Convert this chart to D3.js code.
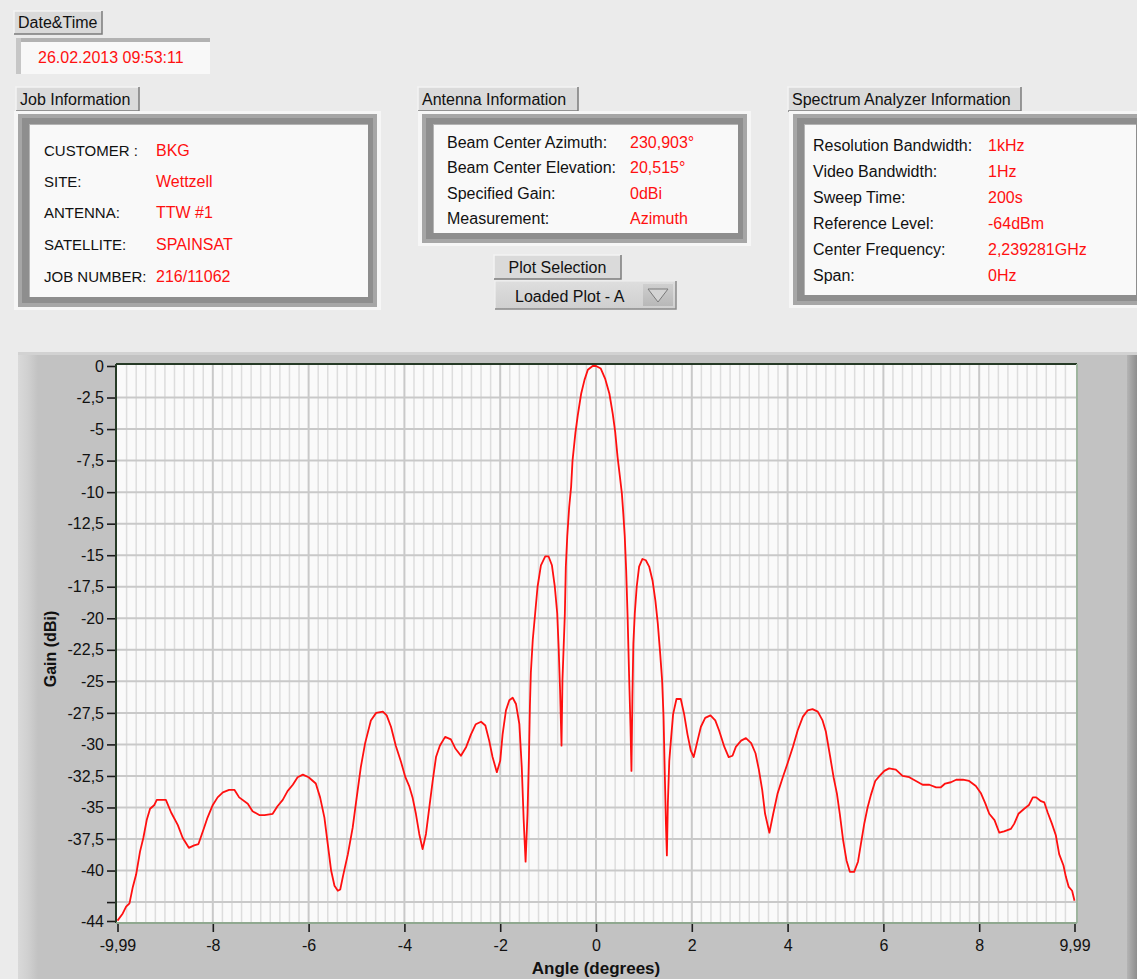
<!DOCTYPE html>
<html>
<head>
<meta charset="utf-8">
<script src="https://cdn.jsdelivr.net/npm/d3@7/dist/d3.min.js"></script>
<style>
  html, body { margin: 0; padding: 0; background: #ebebeb; }
  svg { display: block; }
  text { font-family: "Liberation Sans", Arial, sans-serif; }
</style>
</head>
<body>
<svg id="chart" width="1137" height="979"></svg>
<script>
// ---- Measurement record -------------------------------------------------
const dateTime = "26.02.2013 09:53:11";

const jobLabels = ["CUSTOMER :", "SITE:", "ANTENNA:", "SATELLITE:", "JOB NUMBER:"];
const jobValues = ["BKG", "Wettzell", "TTW #1", "SPAINSAT", "216/11062"];

const antennaLabels = ["Beam Center Azimuth:", "Beam Center Elevation:", "Specified Gain:", "Measurement:"];
const antennaValues = ["230,903°", "20,515°", "0dBi", "Azimuth"];

const analyzerLabels = ["Resolution Bandwidth:", "Video Bandwidth:", "Sweep Time:", "Reference Level:", "Center Frequency:", "Span:"];
const analyzerValues = ["1kHz", "1Hz", "200s", "-64dBm", "2,239281GHz", "0Hz"];

// ---- Antenna pattern (azimuth cut) --------------------------------------
const angles = [
  -9.99, -9.88, -9.81, -9.74, -9.67, -9.60, -9.52, -9.45, -9.38, -9.31, -9.22, -9.17,
  -8.98, -8.87, -8.73, -8.63, -8.50, -8.39, -8.30, -8.20, -8.11, -8.00, -7.90, -7.79,
  -7.66, -7.55, -7.45, -7.27, -7.17, -7.03, -6.92, -6.75, -6.65, -6.54, -6.44, -6.33,
  -6.23, -6.12, -6.00, -5.85, -5.76, -5.67, -5.60, -5.53, -5.46, -5.39, -5.34, -5.28,
  -5.18, -5.08, -5.01, -4.91, -4.82, -4.70, -4.59, -4.45, -4.37, -4.28, -4.18, -4.07,
  -3.98, -3.90, -3.83, -3.76, -3.69, -3.62, -3.55, -3.48, -3.41, -3.34, -3.26, -3.15,
  -3.03, -2.94, -2.82, -2.71, -2.61, -2.51, -2.40, -2.31, -2.23, -2.16, -2.07, -2.00,
  -1.95, -1.88, -1.81, -1.74, -1.67, -1.60, -1.55, -1.51, -1.47, -1.43, -1.40, -1.38,
  -1.36, -1.32, -1.27, -1.22, -1.15, -1.06, -0.99, -0.92, -0.86, -0.81, -0.78, -0.75,
  -0.72, -0.70, -0.65, -0.63, -0.60, -0.56, -0.52, -0.49, -0.43, -0.38, -0.31, -0.24,
  -0.17, -0.07, 0.00, 0.10, 0.19, 0.28, 0.35, 0.40, 0.45, 0.50, 0.54, 0.57,
  0.60, 0.63, 0.66, 0.69, 0.72, 0.74, 0.76, 0.78, 0.81, 0.85, 0.90, 0.97,
  1.04, 1.11, 1.18, 1.24, 1.29, 1.34, 1.38, 1.41, 1.43, 1.46, 1.48, 1.50,
  1.53, 1.57, 1.61, 1.68, 1.77, 1.84, 1.91, 1.98, 2.04, 2.12, 2.19, 2.28,
  2.39, 2.49, 2.57, 2.68, 2.77, 2.85, 2.92, 3.03, 3.13, 3.24, 3.33, 3.40,
  3.47, 3.53, 3.62, 3.70, 3.79, 3.90, 4.00, 4.11, 4.21, 4.32, 4.42, 4.52,
  4.63, 4.73, 4.80, 4.89, 4.96, 5.03, 5.09, 5.16, 5.23, 5.30, 5.39, 5.47,
  5.53, 5.60, 5.67, 5.74, 5.83, 5.92, 6.02, 6.12, 6.26, 6.40, 6.54, 6.68,
  6.82, 6.96, 7.10, 7.20, 7.29, 7.41, 7.52, 7.66, 7.79, 7.93, 8.04, 8.13,
  8.21, 8.32, 8.42, 8.52, 8.66, 8.73, 8.82, 8.94, 9.04, 9.12, 9.19, 9.29,
  9.36, 9.43, 9.52, 9.60, 9.67, 9.76, 9.81, 9.87, 9.94, 9.99
];
const gains = [
  -43.97, -43.4, -42.86, -42.6, -41.3, -40.3, -38.5, -37.4, -36.0, -35.1, -34.8, -34.4,
  -34.4, -35.4, -36.4, -37.4, -38.2, -38.0, -37.9, -36.8, -35.8, -34.8, -34.2, -33.8,
  -33.6, -33.6, -34.2, -34.7, -35.3, -35.6, -35.6, -35.5, -34.9, -34.4, -33.7, -33.2,
  -32.6, -32.4, -32.6, -33.1, -34.2, -35.8, -37.9, -40.0, -41.2, -41.6, -41.5, -40.4,
  -38.7, -36.6, -34.6, -31.8, -29.9, -28.1, -27.5, -27.4, -27.7, -28.6, -30.1, -31.4,
  -32.6, -33.3, -34.2, -35.5, -37.1, -38.3, -37.1, -35.0, -32.9, -31.0, -30.1, -29.4,
  -29.6, -30.3, -30.9, -30.2, -29.2, -28.4, -28.2, -28.5, -29.7, -31.0, -32.2, -31.3,
  -29.2, -27.3, -26.5, -26.3, -26.8, -28.4, -31.8, -36.0, -39.3, -35.5, -31.0, -27.0,
  -24.3, -21.7, -19.6, -17.5, -15.8, -15.1, -15.1, -15.8, -17.5, -19.6, -22.3, -25.7,
  -30.1, -24.9, -19.6, -15.9, -13.5, -11.2, -9.6, -7.5, -5.3, -3.9, -2.2, -1.1,
  -0.3, 0.0, 0.0, -0.2, -1.0, -2.2, -3.8, -5.2, -7.2, -8.8, -10.1, -11.7,
  -13.5, -16.2, -19.9, -24.4, -28.6, -32.1, -26.2, -22.0, -19.6, -17.5, -15.9, -15.3,
  -15.4, -15.9, -17.0, -18.6, -20.4, -22.8, -24.9, -27.8, -31.3, -36.3, -38.8, -34.7,
  -31.3, -29.4, -27.6, -26.4, -26.4, -27.6, -29.2, -30.5, -31.0, -29.7, -28.6, -27.9,
  -27.7, -28.1, -28.9, -30.2, -31.0, -30.9, -30.2, -29.7, -29.5, -29.9, -30.7, -32.0,
  -33.6, -35.5, -37.0, -35.5, -33.9, -32.6, -31.5, -30.2, -28.9, -27.8, -27.3, -27.2,
  -27.4, -28.1, -29.0, -31.0, -32.6, -33.9, -35.5, -37.6, -39.2, -40.1, -40.1, -39.3,
  -37.9, -36.3, -35.0, -34.0, -32.9, -32.5, -32.1, -31.9, -32.0, -32.5, -32.6, -32.9,
  -33.2, -33.2, -33.4, -33.4, -33.1, -33.0, -32.8, -32.8, -32.9, -33.3, -33.9, -34.7,
  -35.5, -36.0, -37.0, -36.9, -36.7, -36.3, -35.5, -35.1, -34.8, -34.2, -34.2, -34.5,
  -34.6, -35.4, -36.3, -37.2, -38.7, -39.6, -40.5, -41.3, -41.6, -42.4
];

const xTickValues = [-9.99, -8, -6, -4, -2, 0, 2, 4, 6, 8, 9.99];
const yTickValues = [0, -2.5, -5, -7.5, -10, -12.5, -15, -17.5, -20, -22.5, -25, -27.5,
                     -30, -32.5, -35, -37.5, -40, -42.5, -44];
const yUnlabelled = [-42.5];

const xTitle = "Angle (degrees)";
const yTitle = "Gain (dBi)";

// ---- Drawing --------------------------------------------------------------
const svg = d3.select("#chart");
const RED = "#ff1010";
const FONT = 16;

const defs = svg.append("defs");
function hGrad(id, stops) {
  const g = defs.append("linearGradient").attr("id", id).attr("x1", 0).attr("x2", 1).attr("y1", 0).attr("y2", 0);
  stops.forEach(([o, c]) => g.append("stop").attr("offset", o).attr("stop-color", c));
}
function vGrad(id, stops) {
  const g = defs.append("linearGradient").attr("id", id).attr("x1", 0).attr("x2", 0).attr("y1", 0).attr("y2", 1);
  stops.forEach(([o, c]) => g.append("stop").attr("offset", o).attr("stop-color", c));
}
hGrad("panelLeft", [[0, "#d9d9d9"], [0.5, "#d0d0d0"], [1, "#c2c2c2"]]);
hGrad("panelRight", [[0, "#b4b4b4"], [1, "#8e8e8e"]]);
vGrad("dropFill", [[0, "#dedede"], [1, "#cfcfcf"]]);
vGrad("arrowFill", [[0, "#cfcfcf"], [1, "#b8b8b8"]]);

// Raised label button
function button(x, y, w, h, label, anchor) {
  const g = svg.append("g");
  g.append("rect").attr("x", x).attr("y", y).attr("width", w).attr("height", h).attr("fill", "#dadada");
  g.append("path").attr("d", `M${x},${y + h} V${y} H${x + w}`).attr("fill", "none").attr("stroke", "#f4f4f4").attr("stroke-width", 1.5);
  g.append("path").attr("d", `M${x + w},${y} V${y + h} H${x}`).attr("fill", "none").attr("stroke", "#7c7c7c").attr("stroke-width", 1.5);
  const t = g.append("text").attr("y", y + h - 6).attr("font-size", FONT).attr("fill", "#111").text(label);
  if (anchor === "middle") t.attr("x", x + w / 2).attr("text-anchor", "middle");
  else t.attr("x", x + 4);
}

// Framed indicator cluster
function frameBox(x, y, w, h) {
  const g = svg.append("g");
  g.append("rect").attr("x", x - 4).attr("y", y - 3).attr("width", w + 8).attr("height", h + 6).attr("fill", "#f6f6f6");
  g.append("rect").attr("x", x).attr("y", y).attr("width", w).attr("height", h).attr("fill", "#a6a6a6");
  g.append("rect").attr("x", x + 4).attr("y", y + 4).attr("width", w - 8).attr("height", h - 8).attr("fill", "#8e8e8e");
  g.append("rect").attr("x", x + 11).attr("y", y + 10).attr("width", w - 20).attr("height", h - 20).attr("fill", "#b4b4b4");
  g.append("rect").attr("x", x + 12).attr("y", y + 11).attr("width", w - 21).attr("height", h - 21).attr("fill", "#f9f9f9");
  return g;
}

function infoRows(labels, values, xl, xv, baselines, labelSize) {
  const g = svg.append("g").attr("font-size", FONT);
  labels.forEach((l, i) => {
    g.append("text").attr("x", xl).attr("y", baselines[i]).attr("fill", "#111")
      .attr("font-size", labelSize || FONT).text(l);
    g.append("text").attr("x", xv).attr("y", baselines[i]).attr("fill", RED).text(values[i]);
  });
}

// Date & time
button(14, 11, 88, 23, "Date&Time");
svg.append("rect").attr("x", 16).attr("y", 38).attr("width", 194).attr("height", 36).attr("fill", "#f8f8f8");
svg.append("rect").attr("x", 16).attr("y", 38).attr("width", 194).attr("height", 4).attr("fill", "#b2b2b2");
svg.append("rect").attr("x", 16).attr("y", 38).attr("width", 5).attr("height", 36).attr("fill", "#c6c6c6");
svg.append("text").attr("x", 38).attr("y", 63).attr("font-size", FONT).attr("fill", RED).text(dateTime);

// Job information
button(16, 87, 123, 24, "Job Information");
frameBox(18, 114, 359, 193);
infoRows(jobLabels, jobValues, 44, 156, [156, 187, 218, 250, 282], 15);

// Antenna information
button(418, 87, 160, 24, "Antenna Information");
frameBox(422, 114, 325, 129);
infoRows(antennaLabels, antennaValues, 447, 630, [148, 173, 199, 224]);

// Plot selection
button(494, 255, 127, 24, "Plot Selection", "middle");
svg.append("rect").attr("x", 495).attr("y", 281).attr("width", 181).attr("height", 28).attr("fill", "url(#dropFill)");
svg.append("path").attr("d", "M495,309 V281 H676").attr("fill", "none").attr("stroke", "#f0f0f0").attr("stroke-width", 1.2);
svg.append("path").attr("d", "M676,281 V309 H495").attr("fill", "none").attr("stroke", "#8a8a8a").attr("stroke-width", 1.5);
svg.append("text").attr("x", 515).attr("y", 302).attr("font-size", FONT).attr("fill", "#111").text("Loaded Plot - A");
svg.append("rect").attr("x", 643).attr("y", 284).attr("width", 30).attr("height", 22).attr("fill", "url(#arrowFill)");
svg.append("path").attr("d", "M648,289 H668 L658,302 Z").attr("fill", "#d4d4d4").attr("stroke", "#7a7a7a").attr("stroke-width", 1);

// Spectrum analyzer information
button(788, 87, 233, 24, "Spectrum Analyzer Information");
frameBox(793, 114, 352, 191);
infoRows(analyzerLabels, analyzerValues, 813, 988, [151, 177, 203, 229, 255, 281]);

// ---- Graph panel ---------------------------------------------------------
svg.append("rect").attr("x", 18).attr("y", 352).attr("width", 1119).attr("height", 627).attr("fill", "#c2c2c2");
svg.append("rect").attr("x", 18).attr("y", 352).attr("width", 20).attr("height", 627).attr("fill", "url(#panelLeft)");
svg.append("rect").attr("x", 1127).attr("y", 352).attr("width", 10).attr("height", 627).attr("fill", "url(#panelRight)");
svg.append("rect").attr("x", 18).attr("y", 352).attr("width", 1119).attr("height", 3).attr("fill", "#d2d2d2");

const plot = { left: 116, right: 1077, top: 364, bottom: 923 };
const x = d3.scaleLinear().domain([-9.99, 9.99]).range([117.5, 1074.5]);
const y = d3.scaleLinear().domain([-44, 0]).range([921, 366]);

svg.append("rect").attr("x", plot.left).attr("y", plot.top)
  .attr("width", plot.right - plot.left).attr("height", plot.bottom - plot.top).attr("fill", "#fafafa");

// Grid: minor verticals every 0.2, major verticals every 2, horizontals every 2.5
const minorX = d3.range(-49, 50).filter(i => i % 10 !== 0).map(i => i / 5);
const majorX = d3.range(-4, 5).map(i => i * 2);
const gridY = yTickValues.filter(v => v < 0 && v > -44);

const grid = svg.append("g");
grid.selectAll(".minorx").data(minorX).join("line")
  .attr("x1", d => x(d)).attr("x2", d => x(d)).attr("y1", plot.top).attr("y2", plot.bottom)
  .attr("stroke", "#dddddd").attr("stroke-width", 1.5);
grid.selectAll(".majorx").data(majorX).join("line")
  .attr("x1", d => x(d)).attr("x2", d => x(d)).attr("y1", plot.top).attr("y2", plot.bottom)
  .attr("stroke", "#c9c9c9").attr("stroke-width", 2);
grid.selectAll(".gridy").data(gridY).join("line")
  .attr("x1", plot.left).attr("x2", plot.right).attr("y1", d => y(d)).attr("y2", d => y(d))
  .attr("stroke", "#c9c9c9").attr("stroke-width", 2);

// Plot frame
svg.append("line").attr("x1", plot.left).attr("x2", plot.right).attr("y1", plot.top).attr("y2", plot.top).attr("stroke", "#263a26").attr("stroke-width", 2);
svg.append("line").attr("x1", plot.left).attr("x2", plot.left).attr("y1", plot.top).attr("y2", plot.bottom).attr("stroke", "#263a26").attr("stroke-width", 2);
svg.append("line").attr("x1", plot.right).attr("x2", plot.right).attr("y1", plot.top).attr("y2", plot.bottom).attr("stroke", "#9fb59f").attr("stroke-width", 2);
svg.append("line").attr("x1", plot.left).attr("x2", plot.right).attr("y1", plot.bottom).attr("y2", plot.bottom).attr("stroke", "#8fa88f").attr("stroke-width", 2);

// Pattern trace
const data = angles.map((a, i) => ({ a, g: gains[i] }));
const line = d3.line().x(d => x(d.a)).y(d => y(d.g)).curve(d3.curveLinear);
svg.append("path").datum(data).attr("d", line)
  .attr("fill", "none").attr("stroke", RED).attr("stroke-width", 1.8).attr("stroke-linejoin", "round");

// Axes
const fmt = v => String(v).replace(".", ",");
const yAxis = d3.axisLeft(y).tickValues(yTickValues).tickSize(8).tickPadding(3)
  .tickFormat(v => yUnlabelled.includes(v) ? "" : fmt(v));
const xAxis = d3.axisBottom(x).tickValues(xTickValues).tickSize(8).tickPadding(8)
  .tickFormat(fmt);

const gy = svg.append("g").attr("transform", `translate(${plot.left - 1},0)`).call(yAxis);
const gx = svg.append("g").attr("transform", `translate(0,${plot.bottom + 1})`).call(xAxis);
[gy, gx].forEach(g => {
  g.select(".domain").remove();
  g.selectAll(".tick line").attr("stroke", "#1a1a1a").attr("stroke-width", 1.6);
  g.selectAll(".tick text").attr("font-family", "'Liberation Sans', Arial, sans-serif")
    .attr("font-size", FONT).attr("fill", "#111");
});

// Axis titles
svg.append("text").attr("x", 596).attr("y", 974).attr("text-anchor", "middle")
  .attr("font-size", FONT + 1).attr("font-weight", "bold").attr("fill", "#111").text(xTitle);
svg.append("text").attr("transform", "translate(56,649) rotate(-90)").attr("text-anchor", "middle")
  .attr("font-size", FONT).attr("font-weight", "bold").attr("fill", "#111").text(yTitle);
</script>
</body>
</html>
